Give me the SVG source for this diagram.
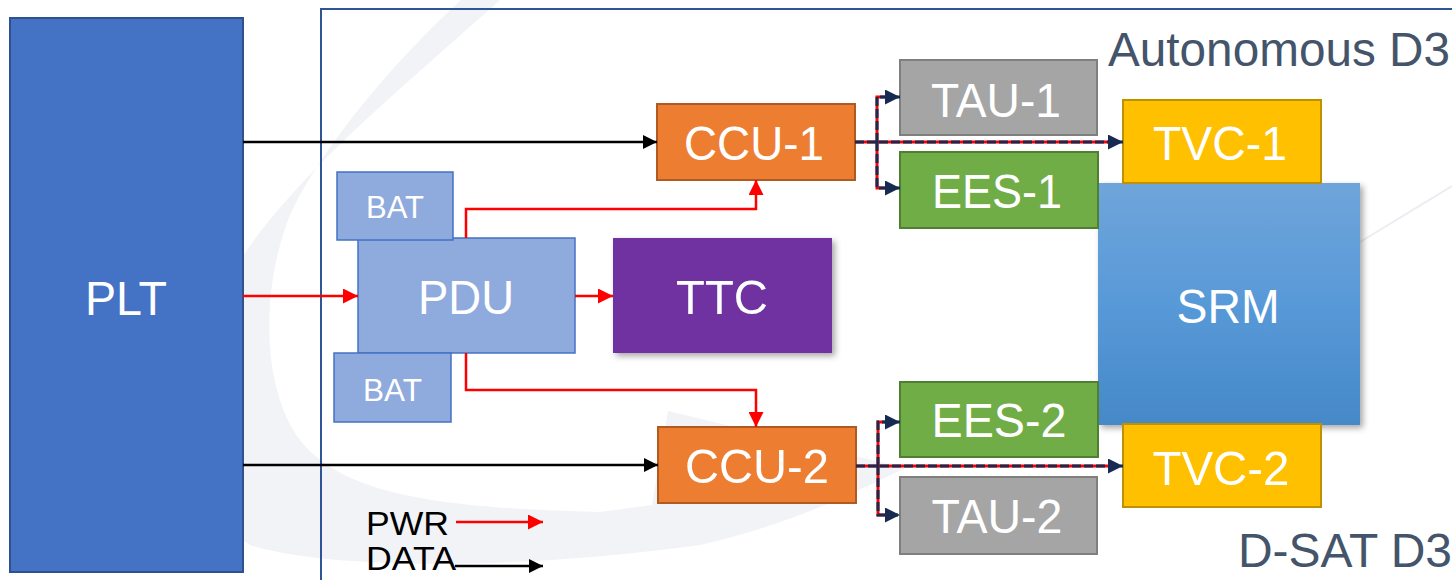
<svg xmlns="http://www.w3.org/2000/svg" width="1452" height="580" viewBox="0 0 1452 580">
<defs>
<style>
text{font-family:"Liberation Sans",Arial,sans-serif;}
.lbl{fill:#ffffff;font-size:49px;text-anchor:middle;}
.bat{fill:#ffffff;font-size:32px;text-anchor:middle;}
.title{fill:#44546a;font-size:48px;}
.leg{fill:#000000;font-size:33px;}
.blk{fill:none;stroke:#000000;stroke-width:2.5;}
.red{fill:none;stroke:#ff0000;stroke-width:2.5;}
.redb{fill:none;stroke:#ff0000;stroke-width:3;}
.nav{fill:none;stroke:#172a52;stroke-width:3;stroke-dasharray:9 3;}
</style>
<marker id="ab" markerUnits="userSpaceOnUse" markerWidth="14" markerHeight="14" viewBox="0 0 14 14" refX="14" refY="7" orient="auto"><path d="M0,0 L14,7 L0,14 Z" fill="#000000"/></marker>
<marker id="ar" markerUnits="userSpaceOnUse" markerWidth="15" markerHeight="15" viewBox="0 0 15 15" refX="15" refY="7.5" orient="auto"><path d="M0,0 L15,7.5 L0,15 Z" fill="#ff0000"/></marker>
<marker id="an" markerUnits="userSpaceOnUse" markerWidth="15" markerHeight="15" viewBox="0 0 15 15" refX="15" refY="7.5" orient="auto"><path d="M0,0 L15,7.5 L0,15 Z" fill="#172a52"/></marker>
<linearGradient id="srmg" x1="0" y1="0" x2="0" y2="1"><stop offset="0" stop-color="#6fa5da"/><stop offset="0.5" stop-color="#5899d8"/><stop offset="1" stop-color="#4689c8"/></linearGradient>
<filter id="sh" x="-10%" y="-10%" width="125%" height="125%"><feDropShadow dx="3" dy="3" stdDeviation="3" flood-color="#000000" flood-opacity="0.35"/></filter>
</defs>
<rect width="1452" height="580" fill="#ffffff"/>
<g id="background">
<path d="M 461 0 C 390 65, 320 150, 290 215 C 260 290, 262 390, 300 440 C 340 490, 420 508, 600 512 L 652 505 L 668 411 L 905 468 C 860 490, 790 525, 700 545 C 520 570, 330 570, 250 545 C 180 500, 170 370, 240 260 C 300 170, 400 90, 500 0 Z" fill="#f2f3f7"/>
<line x1="1360" y1="242" x2="1452" y2="186" stroke="#ececf2" stroke-width="2"/>
<rect x="321" y="9" width="1140" height="580" fill="none" stroke="#2f5597" stroke-width="2"/>
</g>
<g id="PLT"><rect x="10" y="18" width="233" height="554" fill="#4472c4" stroke="#2f528f" stroke-width="2"/><text class="lbl" x="126" y="315" textLength="82" lengthAdjust="spacingAndGlyphs">PLT</text></g>
<g id="SRM"><rect x="1098" y="183" width="262" height="242" fill="url(#srmg)" filter="url(#sh)"/><text class="lbl" x="1228" y="323" textLength="103" lengthAdjust="spacingAndGlyphs">SRM</text></g>
<g id="TVC-1"><rect x="1123" y="100" width="198" height="83" fill="#ffc000" stroke="#bf9000" stroke-width="2"/><text class="lbl" x="1220" y="160" textLength="134" lengthAdjust="spacingAndGlyphs">TVC-1</text></g>
<g id="TVC-2"><rect x="1123" y="424" width="198" height="83" fill="#ffc000" stroke="#bf9000" stroke-width="2"/><text class="lbl" x="1221" y="485" textLength="137" lengthAdjust="spacingAndGlyphs">TVC-2</text></g>
<g id="TAU-1"><rect x="900" y="60" width="197" height="75" fill="#a5a5a5" stroke="#7f7f7f" stroke-width="2"/><text class="lbl" x="996" y="117" textLength="130" lengthAdjust="spacingAndGlyphs">TAU-1</text></g>
<g id="EES-1"><rect x="900" y="152" width="198" height="76" fill="#70ad47" stroke="#507e32" stroke-width="2"/><text class="lbl" x="997" y="208" textLength="130" lengthAdjust="spacingAndGlyphs">EES-1</text></g>
<g id="EES-2"><rect x="900" y="382" width="198" height="75" fill="#70ad47" stroke="#507e32" stroke-width="2"/><text class="lbl" x="999" y="437" textLength="135" lengthAdjust="spacingAndGlyphs">EES-2</text></g>
<g id="TAU-2"><rect x="900" y="477" width="197" height="77" fill="#a5a5a5" stroke="#7f7f7f" stroke-width="2"/><text class="lbl" x="997" y="533" textLength="131" lengthAdjust="spacingAndGlyphs">TAU-2</text></g>
<g id="CCU-1"><rect x="657" y="104" width="198" height="76" fill="#ed7d31" stroke="#ae5a21" stroke-width="2"/><text class="lbl" x="754" y="160" textLength="140" lengthAdjust="spacingAndGlyphs">CCU-1</text></g>
<g id="CCU-2"><rect x="658" y="427" width="198" height="76" fill="#ed7d31" stroke="#ae5a21" stroke-width="2"/><text class="lbl" x="757" y="483" textLength="144" lengthAdjust="spacingAndGlyphs">CCU-2</text></g>
<g id="TTC"><rect x="613" y="238" width="219" height="115" fill="#7030a0" filter="url(#sh)"/><text class="lbl" x="722" y="314" textLength="92" lengthAdjust="spacingAndGlyphs">TTC</text></g>
<g id="PDU"><rect x="358" y="238" width="217" height="115" fill="#8faadc" stroke="#4472c4" stroke-width="1.5"/><text class="lbl" x="466" y="314" textLength="96" lengthAdjust="spacingAndGlyphs">PDU</text></g>
<g id="BAT-1"><rect x="337" y="172" width="116" height="68" fill="#8faadc" stroke="#4472c4" stroke-width="1.5"/><text class="bat" x="395" y="218" textLength="58" lengthAdjust="spacingAndGlyphs">BAT</text></g>
<g id="BAT-2"><rect x="334" y="353" width="117" height="69" fill="#8faadc" stroke="#4472c4" stroke-width="1.5"/><text class="bat" x="392.5" y="401" textLength="59" lengthAdjust="spacingAndGlyphs">BAT</text></g>
<g id="connectors">
<path class="blk" d="M243 142 H657" marker-end="url(#ab)"/>
<path class="blk" d="M243 465 H658" marker-end="url(#ab)"/>
<path class="red" d="M243 296 H358" marker-end="url(#ar)"/>
<path class="red" d="M575 296 H613" marker-end="url(#ar)"/>
<path class="red" d="M466 238 V209 H756 V180" marker-end="url(#ar)"/>
<path class="red" d="M466 353 V390 H756 V427" marker-end="url(#ar)"/>
<path class="redb" d="M855 142 H1110"/>
<path class="redb" d="M877 142 V97 H888"/>
<path class="redb" d="M877 142 V188 H888"/>
<path class="nav" d="M855 142 H1123" marker-end="url(#an)"/>
<path class="nav" d="M877 142 V97 H900" marker-end="url(#an)"/>
<path class="nav" d="M877 142 V188 H900" marker-end="url(#an)"/>
<path class="redb" d="M856 466 H1110"/>
<path class="redb" d="M878 466 V422 H888"/>
<path class="redb" d="M878 466 V515 H888"/>
<path class="nav" d="M856 466 H1123" marker-end="url(#an)"/>
<path class="nav" d="M878 466 V422 H900" marker-end="url(#an)"/>
<path class="nav" d="M878 466 V515 H900" marker-end="url(#an)"/>
</g>
<g id="legend">
<text class="leg" x="366" y="535" textLength="83" lengthAdjust="spacingAndGlyphs">PWR</text>
<text class="leg" x="366" y="570" textLength="90" lengthAdjust="spacingAndGlyphs">DATA</text>
<path class="red" d="M456 522 H543" marker-end="url(#ar)"/>
<path class="blk" d="M455 566 H543" marker-end="url(#ab)"/>
</g>
<g id="titles">
<text class="title" x="1108" y="66" textLength="342" lengthAdjust="spacingAndGlyphs">Autonomous D3</text>
<text class="title" x="1238" y="567" textLength="214" lengthAdjust="spacingAndGlyphs">D-SAT D3</text>
</g>
</svg>
